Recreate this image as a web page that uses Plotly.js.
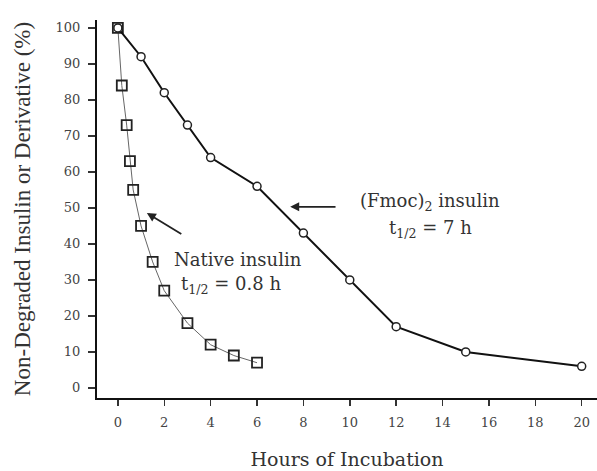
<!DOCTYPE html>
<html><head><meta charset="utf-8">
<script src="https://cdn.plot.ly/plotly-3.0.1.min.js"></script>
<style>html,body{margin:0;padding:0;background:#fff}#plot{width:597px;height:471px}</style>
</head><body><div id="plot"></div>
<script>
const fmocHours = [0, 1, 2, 3, 4, 6, 8, 10, 12, 15, 20];
const fmocRemaining = [100, 92, 82, 73, 64, 56, 43, 30, 17, 10, 6];
const nativeHours = [0, 0.17, 0.38, 0.52, 0.66, 1, 1.5, 2, 3, 4, 5, 6];
const nativeRemaining = [100, 84, 73, 63, 55, 45, 35, 27, 18, 12, 9, 7];
const xTicks = [0, 2, 4, 6, 8, 10, 12, 14, 16, 18, 20];
const yTicks = [0, 10, 20, 30, 40, 50, 60, 70, 80, 90, 100];

const serif = "Liberation Serif, Times New Roman, serif";
const wide = "DejaVu Serif, serif";
const traces = [
  {x: nativeHours, y: nativeRemaining, mode: "lines+markers", type: "scatter",
   line: {color: "#666", width: 1},
   marker: {symbol: "square-open", size: 10, color: "#222", line: {width: 1.8, color: "#222"}}},
  {x: fmocHours, y: fmocRemaining, mode: "lines+markers", type: "scatter",
   line: {color: "#111", width: 2},
   marker: {symbol: "circle", size: 8, color: "#fff", line: {width: 1.5, color: "#222"}}}
];
const layout = {
  width: 597, height: 471,
  margin: {l: 97, r: 0, t: 20, b: 73},
  paper_bgcolor: "#fff", plot_bgcolor: "#fff",
  showlegend: false,
  font: {family: wide, color: "#333", size: 14},
  xaxis: {range: [-0.9, 20.66], tickvals: xTicks, ticktext: xTicks.map(String),
          showgrid: false, zeroline: false, showline: true, linecolor: "#111", linewidth: 2,
          ticks: "outside", ticklen: 6, tickwidth: 1.5, tickcolor: "#333", ticklabelstandoff: 5,
          tickfont: {family: wide, size: 13, color: "#444"},
          title: {text: "Hours of Incubation", font: {family: wide, size: 19, color: "#333"}, standoff: 24}},
  yaxis: {range: [-2.8, 102.2], tickvals: yTicks, ticktext: yTicks.map(String),
          showgrid: false, zeroline: false, showline: true, linecolor: "#111", linewidth: 2,
          ticks: "outside", ticklen: 7, tickwidth: 1.5, tickcolor: "#333", ticklabelstandoff: 5,
          tickfont: {family: wide, size: 13, color: "#444"},
          title: {text: "Non-Degraded Insulin or Derivative (%)", font: {family: serif, size: 23, color: "#333"}, standoff: 19}},
  annotations: [
    {x: 13.46, y: 51.7, xref: "x", yref: "y", text: "(Fmoc)<sub>2</sub> insulin", showarrow: false,
     font: {family: wide, size: 18, color: "#333"}},
    {x: 13.5, y: 44.2, xref: "x", yref: "y", text: "t<sub>1/2</sub> = 7 h", showarrow: false,
     font: {family: wide, size: 18, color: "#333"}},
    {x: 7.43, y: 50.3, xref: "x", yref: "y", ax: 9.45, ay: 50.3, axref: "x", ayref: "y", text: "",
     showarrow: true, arrowhead: 2, arrowsize: 1, arrowwidth: 1.8, arrowcolor: "#222"},
    {x: 5.18, y: 35.6, xref: "x", yref: "y", text: "Native insulin", showarrow: false,
     font: {family: wide, size: 18, color: "#333"}},
    {x: 4.87, y: 28.6, xref: "x", yref: "y", text: "t<sub>1/2</sub> = 0.8 h", showarrow: false,
     font: {family: wide, size: 18, color: "#333"}},
    {x: 1.25, y: 48.6, xref: "x", yref: "y", ax: 2.8, ay: 42.5, axref: "x", ayref: "y", text: "",
     showarrow: true, arrowhead: 2, arrowsize: 1, arrowwidth: 1.8, arrowcolor: "#222"}
  ]
};
Plotly.newPlot("plot", traces, layout, {displayModeBar: false, staticPlot: true});
</script></body></html>
